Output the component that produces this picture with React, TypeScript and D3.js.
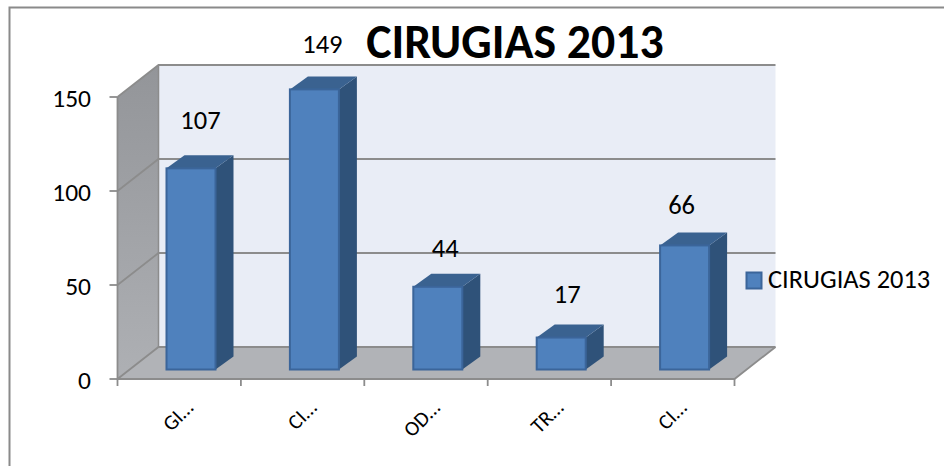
import React from 'react';
import * as d3 from 'd3';

const categories = ['GI…', 'CI…', 'OD…', 'TR…', 'CI…'];
const values = [107, 149, 44, 17, 66];
const yTicks = [0, 50, 100, 150];
const seriesName = 'CIRUGIAS 2013';

// label nudges, the labels were dragged by hand in the original
const labelDx = [9.5, 8, 7.5, 6, -3];
const labelDy = [-47, -44, -38, -43, -39];

const depth = { x: 41, y: -32 };
const barInset = { x: 12, y: -9.5 };
const barDepth = { x: 18, y: -13 };

const font = 'Carlito, "Open Sans", "Noto Sans", sans-serif';
const grid = '#8c8c8c';

const App = () => {
    const x = d3.scaleBand<number>().domain(d3.range(categories.length)).range([117.5, 734.5]);
    const y = d3.scaleLinear().domain([0, 150]).range([379, 97]);
    const barW = 49;
    const barX = (i: number) => (x(i) as number) + 49;
    const x0 = 117.5, x1 = 734.5;
    const y0 = y(0), yTop = y(150);
    const pts = (p: number[][]) => p.map(d => d.join(',')).join(' ');

    return (
        <svg width={944} height={466} style={{ position: 'absolute', left: 0, top: 0, background: '#fff' }}>
            <defs>
                <linearGradient id="sideWall" x1="0" y1="0" x2="0" y2="1">
                    <stop offset="0" stopColor="#939599" />
                    <stop offset="1" stopColor="#aeb0b4" />
                </linearGradient>
            </defs>
            <path d="M9.5 466V7.5H944" fill="none" stroke="#8a8a8a" strokeWidth={2} />

            {/* walls and floor */}
            <rect x={x0 + depth.x} y={yTop + depth.y} width={x1 - x0} height={y0 - yTop} fill="#e9edf6" />
            <polygon points={pts([[x0, yTop], [x0 + depth.x, yTop + depth.y], [x0 + depth.x, y0 + depth.y], [x0, y0]])} fill="url(#sideWall)" />
            <polygon points={pts([[x0, y0], [x0 + depth.x, y0 + depth.y], [x1 + depth.x, y0 + depth.y], [x1, y0]])} fill="#b1b3b7" />

            {/* gridlines run along the side wall then the back wall */}
            {yTicks.map(t => (
                <polyline key={t} fill="none" stroke={grid} strokeWidth={1.8}
                    points={pts([[x0, y(t)], [x0 + depth.x, y(t) + depth.y], [x1 + depth.x, y(t) + depth.y]])} />
            ))}
            <polyline fill="none" stroke={grid} strokeWidth={1.5}
                points={pts([[x0 + depth.x, yTop + depth.y], [x0 + depth.x, y0 + depth.y]])} />
            <polyline fill="none" stroke={grid} strokeWidth={1.8}
                points={pts([[x1 + depth.x, y0 + depth.y], [x1, y0], [x0, y0], [x0, yTop]])} />

            {/* axis ticks */}
            {yTicks.map(t => (
                <g key={t}>
                    <line x1={x0 - 8} x2={x0} y1={y(t)} y2={y(t)} stroke={grid} strokeWidth={1.8} />
                    <text x={91} y={y(t) + 9.5} textAnchor="end" fontFamily={font} fontSize={25.5} fill="#000">{t}</text>
                </g>
            ))}
            {d3.range(categories.length + 1).map(i => {
                const tx = i === categories.length ? x1 : (x(i) as number);
                return <line key={i} x1={tx} x2={tx} y1={y0} y2={y0 + 7} stroke={grid} strokeWidth={1.8} />;
            })}
            {categories.map((c, i) => (
                <text key={i} transform={`translate(${(x(i) as number) + 77},${y0 + 30}) rotate(-45)`}
                    textAnchor="end" fontFamily={font} fontSize={21} fill="#000">{c}</text>
            ))}

            {/* bars */}
            {values.map((v, i) => {
                const bx = barX(i);
                const by = y(v) + barInset.y;
                const base = y(0) + barInset.y;
                return (
                    <g key={i}>
                        <polygon points={pts([[bx + barW, by], [bx + barW + barDepth.x, by + barDepth.y], [bx + barW + barDepth.x, base + barDepth.y], [bx + barW, base]])} fill="#2f5279" />
                        <polygon points={pts([[bx, by], [bx + barDepth.x, by + barDepth.y], [bx + barW + barDepth.x, by + barDepth.y], [bx + barW, by]])} fill="#3a6290" />
                        <rect x={bx} y={by} width={barW} height={base - by} fill="#4f81bd" stroke="#3b659a" strokeWidth={2} />
                    </g>
                );
            })}

            {/* data labels */}
            {values.map((v, i) => (
                <text key={i} x={barX(i) + barW / 2 + labelDx[i]} y={y(v) + barInset.y + labelDy[i] + 8}
                    textAnchor="middle" fontFamily={font} fontSize={26.5} fill="#000">{v}</text>
            ))}

            <text x={515} y={58} textAnchor="middle" fontFamily={font} fontSize={47.8} fontWeight="bold" fill="#000">{seriesName}</text>

            {/* legend */}
            <rect x={746.5} y={272.5} width={15} height={16} fill="#4f81bd" stroke="#3b659a" strokeWidth={2} />
            <text x={768} y={288} fontFamily={font} fontSize={26.4} fill="#000">{seriesName}</text>
        </svg>
    );
};

export default App;
